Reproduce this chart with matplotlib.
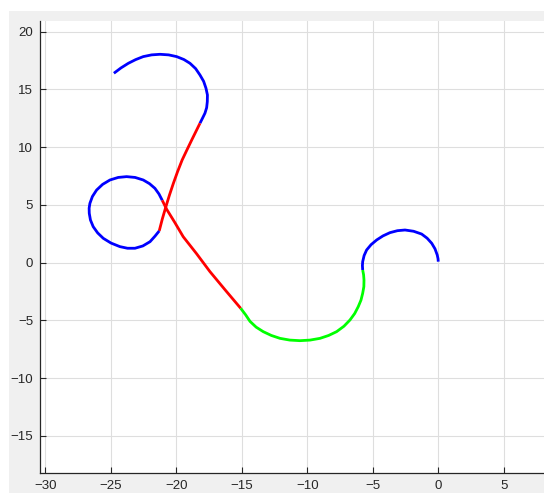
import matplotlib
matplotlib.use("Agg")
import matplotlib.pyplot as plt
from matplotlib.patches import Rectangle

# Path segments, in travel order (x, y)
arco_superior_x = [-24.76, -24.22, -23.66, -23.10, -22.52, -21.88, -21.24, -20.58, -19.97, -19.42,
                   -18.95, -18.52, -18.19, -17.91, -17.73, -17.62, -17.63, -17.68, -17.81, -18.00, -18.19]
arco_superior_y = [16.40, 16.86, 17.26, 17.58, 17.84, 17.99, 18.04, 17.99, 17.84, 17.59,
                   17.26, 16.80, 16.25, 15.70, 15.10, 14.52, 13.94, 13.42, 12.94, 12.50, 12.07]

recta_2_x = [-18.19, -18.82, -19.19, -19.55, -19.90, -20.22, -20.52, -20.79, -21.06, -21.30]
recta_2_y = [12.07, 10.62, 9.75, 8.89, 7.88, 6.87, 5.85, 4.85, 3.80, 2.75]

lazo_x = [-21.30, -21.62, -22.00, -22.55, -23.15, -23.72, -24.30, -24.98, -25.57, -26.00,
          -26.34, -26.55, -26.64, -26.65, -26.59, -26.40, -26.08, -25.62, -25.06, -24.43,
          -23.79, -23.14, -22.52, -22.04, -21.63, -21.32, -21.07]
lazo_y = [2.75, 2.30, 1.82, 1.45, 1.25, 1.25, 1.39, 1.70, 2.11, 2.58,
          3.12, 3.70, 4.28, 4.72, 5.14, 5.73, 6.29, 6.78, 7.16, 7.38,
          7.45, 7.38, 7.16, 6.84, 6.44, 5.95, 5.40]

recta_1_x = [-21.07, -20.73, -20.12, -19.47, -18.45, -17.43, -16.25, -15.08]
recta_1_y = [5.40, 4.62, 3.50, 2.25, 0.78, -0.77, -2.38, -3.95]

arco_verde_x = [-15.08, -14.70, -14.37, -13.90, -13.36, -12.74, -12.08, -11.33, -10.56, -9.79,
                -9.03, -8.37, -7.76, -7.20, -6.74, -6.38, -6.11, -5.90, -5.77, -5.68,
                -5.67, -5.70, -5.77]
arco_verde_y = [-3.95, -4.52, -5.08, -5.58, -5.97, -6.30, -6.55, -6.70, -6.75, -6.70,
                -6.55, -6.30, -5.97, -5.50, -4.96, -4.40, -3.81, -3.24, -2.65, -2.07,
                -1.50, -1.05, -0.63]

arco_final_x = [-5.77, -5.79, -5.77, -5.66, -5.47, -5.13, -4.70, -4.22, -3.69, -3.12,
                -2.54, -1.88, -1.27, -0.85, -0.50, -0.25, -0.08, -0.02, 0.0]
arco_final_y = [-0.63, -0.25, 0.09, 0.62, 1.10, 1.56, 1.97, 2.32, 2.60, 2.77,
                2.83, 2.72, 2.48, 2.12, 1.68, 1.20, 0.67, 0.35, 0.09]

xticks = [-30, -25, -20, -15, -10, -5, 0, 5]
yticks = [-15, -10, -5, 0, 5, 10, 15, 20]

plt.rcParams["font.family"] = ["Liberation Sans", "DejaVu Sans"]

fig = plt.figure(figsize=(5.44, 4.93), dpi=100)
fig.patch.set_facecolor("white")
fig.patches.append(Rectangle((9 / 544, 0), 1, (493 - 11) / 493,
                             transform=fig.transFigure, facecolor="#f0f0f0",
                             edgecolor="none", zorder=-10))

ax = fig.add_axes([40 / 544, 19.6 / 493, 1 - 40 / 544, 452.6 / 493])
ax.set_facecolor("white")

estilo = dict(lw=2.0, solid_capstyle="butt", solid_joinstyle="round")
ax.plot(arco_superior_x, arco_superior_y, color="#0000ff", **estilo)
ax.plot(recta_2_x, recta_2_y, color="#ff0000", **estilo)
ax.plot(lazo_x, lazo_y, color="#0000ff", **estilo)
ax.plot(recta_1_x, recta_1_y, color="#ff0000", **estilo)
ax.plot(arco_verde_x, arco_verde_y, color="#00ff00", **estilo)
ax.plot(arco_final_x, arco_final_y, color="#0000ff", **estilo)

ax.set_xlim(-30.40, 8.07)
ax.set_ylim(-18.24, 20.94)
ax.set_xticks(xticks)
ax.set_yticks(yticks)
ax.grid(True, color="#dedede", lw=0.8)
ax.set_axisbelow(True)

ax.spines["top"].set_visible(False)
ax.spines["right"].set_visible(False)
ax.spines["left"].set_color("#262626")
ax.spines["bottom"].set_color("#262626")
ax.spines["left"].set_linewidth(0.9)
ax.spines["bottom"].set_linewidth(0.9)
ax.tick_params(direction="in", length=4, width=0.8, color="#262626",
               labelcolor="#262626", labelsize=9.5)
ax.tick_params(axis="x", pad=5)
ax.tick_params(axis="y", pad=5)

fig.savefig("out.png", dpi=100, facecolor=fig.get_facecolor())
